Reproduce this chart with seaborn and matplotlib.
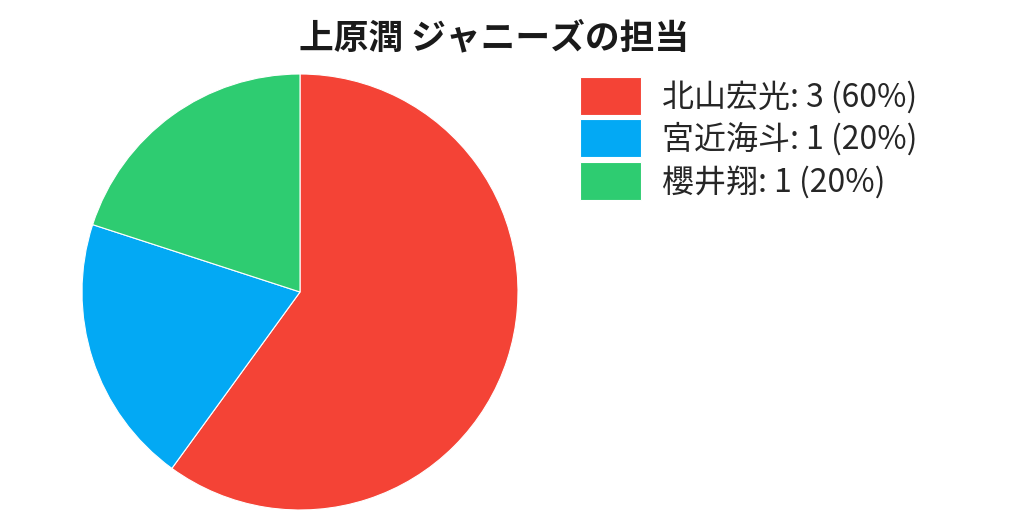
import matplotlib
matplotlib.use("Agg")
import matplotlib.pyplot as plt
import seaborn as sns

names = ["北山宏光", "宮近海斗", "櫻井翔"]
counts = [3, 1, 1]
colors = ["#F44336", "#03A9F4", "#2ECC71"]
title = "上原潤 ジャニーズの担当"

sns.set_theme(style="white")
plt.rcParams["font.family"] = ["Noto Sans CJK JP", "DejaVu Sans"]

total = sum(counts)
labels = [f"{n}: {c} ({c / total * 100:.0f}%)" for n, c in zip(names, counts)]

fig = plt.figure(figsize=(10.24, 5.12), dpi=100)
ax = fig.add_axes([82 / 1024, 2 / 512, 436 / 1024, 436 / 512])
wedges, _ = ax.pie(counts, colors=colors, startangle=90, counterclock=False,
                   wedgeprops={"edgecolor": "white", "linewidth": 0.8})
ax.set_xlim(-1, 1)
ax.set_ylim(-1, 1)
ax.set_aspect("equal")

fig.text(494 / 1024, 1 - 38 / 512, title, ha="center", va="center",
         fontsize=25, fontweight="bold", color="#1a1a1a")

fig.legend(wedges, labels, loc="upper left",
           bbox_to_anchor=(580 / 1024, 1 - 77 / 512),
           frameon=False, fontsize=23, handlelength=1.9, handleheight=1.46,
           labelspacing=0.13, handletextpad=0.66, borderpad=0, borderaxespad=0)

fig.savefig("out.png", dpi=100)
